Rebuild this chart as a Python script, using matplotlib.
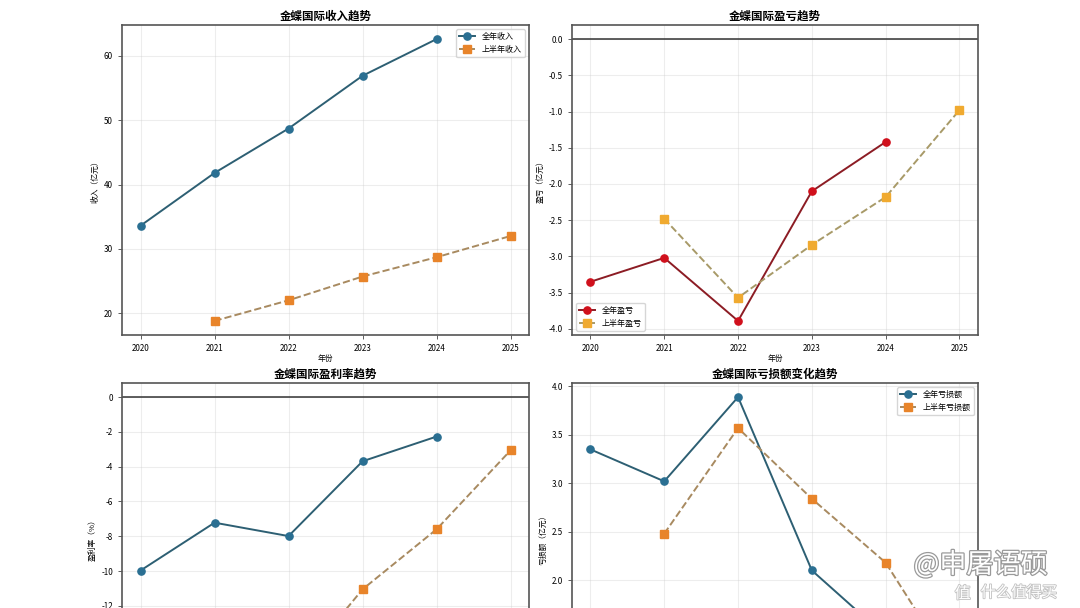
import matplotlib
matplotlib.use('Agg')
import matplotlib.pyplot as plt
import matplotlib.patheffects as pe

plt.rcParams['font.family'] = ['Noto Sans CJK SC', 'DejaVu Sans']
plt.rcParams['axes.unicode_minus'] = False

# data (亿元 / %)
years_full = [2020, 2021, 2022, 2023, 2024]
years_half = [2021, 2022, 2023, 2024, 2025]
revenue_full = [33.6, 41.8, 48.7, 56.9, 62.6]
revenue_half = [18.8, 22.0, 25.7, 28.7, 32.0]
profit_full = [-3.35, -3.02, -3.89, -2.10, -1.42]
profit_half = [-2.48, -3.57, -2.84, -2.18, -0.98]
margin_full = [-9.97, -7.22, -7.99, -3.69, -2.27]
margin_half = [-13.2, -16.2, -11.05, -7.6, -3.06]
loss_full = [3.35, 3.02, 3.89, 2.10, 1.42]
loss_half = [2.48, 3.57, 2.84, 2.18, 0.98]
year_ticks = [2020, 2021, 2022, 2023, 2024, 2025]

TEAL_LINE = '#2d5f73'
TEAL_MK = '#2a6f92'
ORANGE_LINE = '#a88a60'
ORANGE_MK = '#e8842a'
RED_LINE = '#8c1c24'
RED_MK = '#d0101c'
GOLD_LINE = '#a89a68'
GOLD_MK = '#f0aa30'

fig = plt.figure(figsize=(10.8, 6.08), dpi=100)
fig.patch.set_facecolor('white')

w_l, w_r = 0.3769, 0.3759
h = 0.5099
ax1 = fig.add_axes([0.113, 0.449, w_l, h])
ax2 = fig.add_axes([0.5296, 0.449, w_r, h])
ax3 = fig.add_axes([0.113, -0.1398, w_l, h])
ax4 = fig.add_axes([0.5296, -0.1398, w_r, h])


def style(ax, title, ylabel, bottom_row=False):
    ax.set_title(title, fontsize=8.3, fontweight='bold', pad=3.5)
    ax.set_ylabel(ylabel, fontsize=5.6, labelpad=3)
    ax.set_xticks(year_ticks)
    ax.tick_params(labelsize=5.8, length=3, width=0.6, color='#444')
    if bottom_row:
        # x axis of the lower row sits below the visible crop
        ax.tick_params(axis='x', labelbottom=False)
    else:
        ax.set_xlabel('年份', fontsize=5.6, labelpad=1.5)
    ax.grid(True, color='#cccccc', alpha=0.35, linewidth=0.8)
    for s in ax.spines.values():
        s.set_linewidth(1.2)
        s.set_edgecolor('#555555')


def full_line(ax, y, line, mk, label):
    ax.plot(years_full, y, color=line, linewidth=1.4, marker='o', markersize=5.2,
            markerfacecolor=mk, markeredgecolor=mk, label=label)


def half_line(ax, y, line, mk, label):
    ax.plot(years_half, y, color=line, linewidth=1.4, linestyle='--', marker='s',
            markersize=5.2, markerfacecolor=mk, markeredgecolor=mk, label=label)


# 收入
full_line(ax1, revenue_full, TEAL_LINE, TEAL_MK, '全年收入')
half_line(ax1, revenue_half, ORANGE_LINE, ORANGE_MK, '上半年收入')
style(ax1, '金蝶国际收入趋势', '收入（亿元）')
ax1.legend(loc='upper right', fontsize=5.8)

# 盈亏
full_line(ax2, profit_full, RED_LINE, RED_MK, '全年盈亏')
half_line(ax2, profit_half, GOLD_LINE, GOLD_MK, '上半年盈亏')
ax2.axhline(0, color='#333333', linewidth=1.1)
style(ax2, '金蝶国际盈亏趋势', '盈亏（亿元）')
ax2.legend(loc='lower left', fontsize=5.8)

# 盈利率
full_line(ax3, margin_full, TEAL_LINE, TEAL_MK, '全年盈利率')
half_line(ax3, margin_half, ORANGE_LINE, ORANGE_MK, '上半年盈利率')
ax3.axhline(0, color='#333333', linewidth=1.1)
style(ax3, '金蝶国际盈利率趋势', '盈利率（%）', bottom_row=True)

# 亏损额
full_line(ax4, loss_full, TEAL_LINE, TEAL_MK, '全年亏损额')
half_line(ax4, loss_half, ORANGE_LINE, ORANGE_MK, '上半年亏损额')
style(ax4, '金蝶国际亏损额变化趋势', '亏损额（亿元）', bottom_row=True)
ax4.legend(loc='upper right', fontsize=5.8)

# watermark
outline = [pe.withStroke(linewidth=1.8, foreground='#9a9a9a')]
fig.text(0.846, 0.058, '@申屠语硕', fontsize=19.5, color='white',
         path_effects=outline)
thin = [pe.withStroke(linewidth=1.3, foreground='#c4c4c4')]
fig.text(0.884, 0.016, '值', fontsize=11.5, color='white', path_effects=thin)
fig.text(0.908, 0.018, '什么值得买', fontsize=11, color='white', path_effects=thin)

fig.savefig('out.png', dpi=100)
